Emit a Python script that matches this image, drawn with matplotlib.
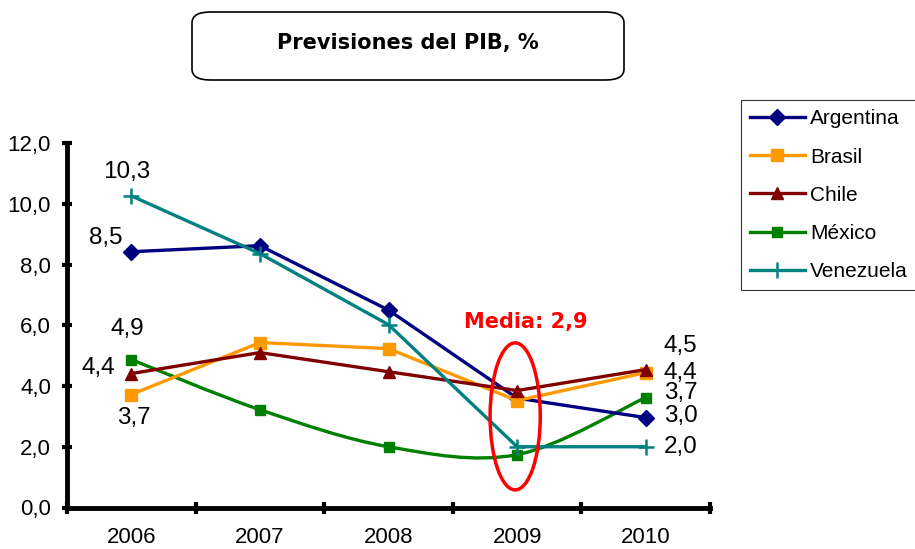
import numpy as np
import matplotlib
matplotlib.use("Agg")
import matplotlib.pyplot as plt
from matplotlib.path import Path
from matplotlib.patches import PathPatch, Ellipse, FancyBboxPatch
from matplotlib.ticker import FuncFormatter, FixedLocator
#
# -----------------------------------------------------------------------------
#
""" Data """
years = ["2006", "2007", "2008", "2009", "2010"]

argentina = [8.42, 8.62, 6.50, 3.60, 2.96]
brasil    = [3.72, 5.43, 5.23, 3.52, 4.44]
chile     = [4.41, 5.10, 4.47, 3.85, 4.54]
mexico    = [4.87, 3.22, 2.00, 1.74, 3.62]
venezuela = [10.26, 8.36, 6.02, 2.00, 2.00]

# data labels shown on first and last year
labels_first = ["8,5", "3,7", "4,4", "4,9", "10,3"]
labels_last  = ["3,0", "4,4", "4,5", "3,7", "2,0"]

media_text = "Media: 2,9"
title = "Previsiones del PIB, %"
#
# -----------------------------------------------------------------------------
#
""" Styles """
names   = ["Argentina", "Brasil", "Chile", "México", "Venezuela"]
series  = [argentina, brasil, chile, mexico, venezuela]
colors  = ["#000080", "#FF9900", "#800000", "#008000", "#008080"]
markers = ["D", "s", "^", "s", "+"]
msizes  = [8, 8.5, 8.5, 6.5, 12]
smooth  = [False, False, False, True, False]

# label offsets in points (first, last)
off_first = [(-6, 10), (2, -17), (-12, 4), (-3, 22), (-3, 17)]
off_last  = [(13, 1), (13, 0), (13, 17), (13, 3), (13, 0)]
ha_first  = ["right", "center", "right", "center", "center"]

plt.rcParams['font.family'] = ['Liberation Sans', 'DejaVu Sans']

fig = plt.figure(figsize=(9.15, 5.49), dpi=100)
ax = fig.add_axes([67 / 915, 1 - 507.5 / 549, 643 / 915, 364.5 / 549])

x = np.arange(len(years))


def smooth_path(xs, ys):
    # Excel-like smoothed line: cubic bezier with Catmull-Rom tangents
    pts = np.column_stack([xs, ys])
    n = len(pts)
    verts = [pts[0]]
    codes = [Path.MOVETO]
    for i in range(n - 1):
        p0 = pts[i - 1] if i > 0 else pts[i]
        p1 = pts[i]
        p2 = pts[i + 1]
        p3 = pts[i + 2] if i + 2 < n else pts[i + 1]
        c1 = p1 + (p2 - p0) / 6
        c2 = p2 - (p3 - p1) / 6
        verts += [c1, c2, p2]
        codes += [Path.CURVE4] * 3
    return Path(verts, codes)


handles = []
for s, name, c, m, ms, sm in zip(series, names, colors, markers, msizes, smooth):
    if sm:
        ax.add_patch(PathPatch(smooth_path(x, s), facecolor="none", edgecolor=c,
                               lw=2.4, zorder=2))
        ax.plot(x, s, linestyle="none", marker=m, markersize=ms, color=c, zorder=3)
        handles.append(plt.Line2D([], [], color=c, lw=2.4, marker=m, markersize=ms))
    else:
        h, = ax.plot(x, s, color=c, lw=2.4, marker=m, markersize=ms,
                     markeredgewidth=1.8 if m == "+" else 1, zorder=3)
        handles.append(h)

# data labels
for s, lf, ll, of, ol, ha in zip(series, labels_first, labels_last,
                                  off_first, off_last, ha_first):
    ax.annotate(lf, (x[0], s[0]), xytext=of, textcoords="offset points",
                ha=ha, va="center", fontsize=17.5)
    ax.annotate(ll, (x[-1], s[-1]), xytext=ol, textcoords="offset points",
                ha="left", va="center", fontsize=17.5)

# mean marker
ax.add_patch(Ellipse((2.985, 3.0), 0.39, 4.84, facecolor="none", edgecolor="red",
                     lw=2.5, zorder=5))
ax.text(3.07, 6.1, media_text, color="red", fontsize=15, fontweight="bold",
        family="DejaVu Sans", ha="center", va="center")

# axes
ax.set_xlim(-0.5, len(years) - 0.5)
ax.set_ylim(0, 12)
ax.set_yticks(np.arange(0, 12.1, 2))
ax.yaxis.set_major_formatter(FuncFormatter(lambda v, p: f"{v:.1f}".replace(".", ",")))
ax.set_xticks(x)
ax.set_xticklabels(years)
ax.xaxis.set_minor_locator(FixedLocator(np.arange(-0.5, len(years), 1)))
ax.tick_params(axis="x", which="major", length=0, pad=14, labelsize=16)
ax.tick_params(axis="x", which="minor", length=8, width=3, direction="inout")
ax.tick_params(axis="y", length=7, width=3, direction="inout", labelsize=16, pad=8)
for sp in ["top", "right"]:
    ax.spines[sp].set_visible(False)
for sp in ["left", "bottom"]:
    ax.spines[sp].set_linewidth(3.5)

# legend
leg = fig.legend(handles, names, loc="upper left",
                 bbox_to_anchor=(741 / 915, 1 - 100 / 549), frameon=True,
                 fancybox=False, edgecolor="black", fontsize=15,
                 handlelength=2.6, labelspacing=0.92, handletextpad=0.25,
                 borderpad=0.45, borderaxespad=0)
leg.get_frame().set_linewidth(0.8)

# title box
fig.patches.append(FancyBboxPatch((192 / 915, 1 - 80 / 549), 432 / 915, 68 / 549,
                                  boxstyle="round,pad=0,rounding_size=0.02",
                                  transform=fig.transFigure, facecolor="white",
                                  edgecolor="black", lw=1.2))
fig.text(408 / 915, 1 - 43 / 549, title, ha="center", va="center",
         fontsize=15, fontweight="bold", family="DejaVu Sans")

fig.savefig("out.png", dpi=100)
